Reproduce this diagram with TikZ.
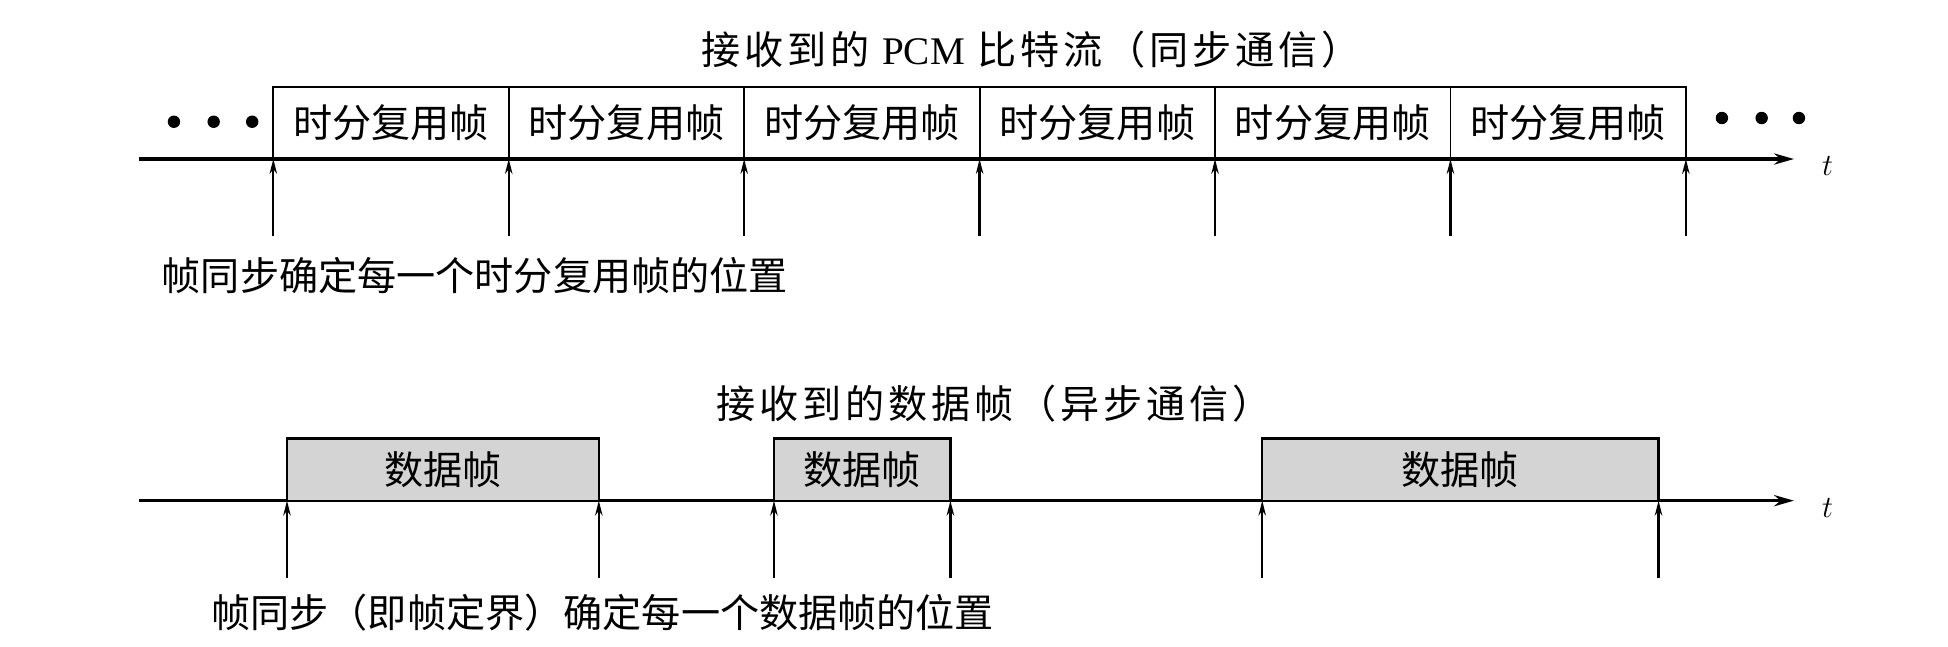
\documentclass[tikz,border=0pt]{standalone}
\usepackage{fontspec}
\setmainfont{Liberation Serif}
\newfontfamily\cjk{Noto Sans CJK SC}
\newfontfamily\cjkwide{Noto Sans CJK SC}[LetterSpace=10]
\usetikzlibrary{arrows.meta}
\begin{document}
\begin{tikzpicture}[x=1pt,y=1pt,
  txt/.style={font=\cjk\fontsize{31.5}{31.5}\selectfont, inner sep=0pt},
  ttl/.style={font=\cjkwide\fontsize{31.5}{31.5}\selectfont, inner sep=0pt},
  tbox/.style={draw, line width=1.5pt, minimum height=58pt, inner sep=0pt, outer sep=0pt, anchor=south west, font=\cjk\fontsize{31.5}{31.5}\selectfont},
  dbox/.style={draw, line width=1.8pt, fill=black!17, minimum height=50pt, inner sep=0pt, outer sep=0pt, anchor=south west, font=\cjk\fontsize{31.5}{31.5}\selectfont},
  axis/.style={line width=2.6pt, -{Stealth[length=16pt,width=9pt]}},
  up/.style={line width=1.8pt, -{Stealth[length=12pt,width=6pt]}},
  dot/.style={circle, fill=black, inner sep=0pt, minimum size=10pt}]
\useasboundingbox (0,0) rectangle (1568,520);
% ---- top: synchronous ----
\node[ttl] (title1) at (830,480) {接收到的 {\rmfamily PCM} 比特流（同步通信）};
\coordinate (ax1s) at (112,392);
\coordinate (ax1e) at (1444,392);
\draw[axis] (ax1s) -- (ax1e);
\node[font=\fontsize{28}{28}\selectfont, inner sep=0pt] (t1) at (1471,386) {$t$};
\node[tbox, minimum width=189.5pt] (f1) at (220,392) {时分复用帧};
\node[tbox, minimum width=189.5pt] (f2) at (f1.south east) {时分复用帧};
\node[tbox, minimum width=189.5pt] (f3) at (f2.south east) {时分复用帧};
\node[tbox, minimum width=189.5pt] (f4) at (f3.south east) {时分复用帧};
\node[tbox, minimum width=189.5pt] (f5) at (f4.south east) {时分复用帧};
\node[tbox, minimum width=189.5pt] (f6) at (f5.south east) {时分复用帧};
\node[dot] (ld1) at (140,422) {};
\node[dot] (ld2) at (172,422) {};
\node[dot] (ld3) at (203,422) {};
\node[dot] (rd1) at (1386,425) {};
\node[dot] (rd2) at (1418,425) {};
\node[dot] (rd3) at (1448,425) {};
\coordinate (a1) at (220,330);
\coordinate (a2) at (409.5,330);
\coordinate (a3) at (599,330);
\coordinate (a4) at (788.5,330);
\coordinate (a5) at (978,330);
\coordinate (a6) at (1167.5,330);
\coordinate (a7) at (1357,330);
\draw[up] (a1) -- (f1.south west);
\draw[up] (a2) -- (f2.south west);
\draw[up] (a3) -- (f3.south west);
\draw[up] (a4) -- (f4.south west);
\draw[up] (a5) -- (f5.south west);
\draw[up] (a6) -- (f6.south west);
\draw[up] (a7) -- (f6.south east);
\node[txt, anchor=west] (lab1) at (130,298) {帧同步确定每一个时分复用帧的位置};
% ---- bottom: asynchronous ----
\node[ttl] (title2) at (800,195) {接收到的数据帧（异步通信）};
\coordinate (ax2s) at (112,117);
\coordinate (ax2e) at (1444,117);
\draw[axis] (ax2s) -- (ax2e);
\node[font=\fontsize{28}{28}\selectfont, inner sep=0pt] (t2) at (1471,111) {$t$};
\node[dbox, minimum width=251pt] (d1) at (231,117) {数据帧};
\node[dbox, minimum width=142pt] (d2) at (623,117) {数据帧};
\node[dbox, minimum width=319pt] (d3) at (1016,117) {数据帧};
\coordinate (b1) at (231,55);
\coordinate (b2) at (482,55);
\coordinate (b3) at (623,55);
\coordinate (b4) at (765,55);
\coordinate (b5) at (1016,55);
\coordinate (b6) at (1335,55);
\draw[up] (b1) -- (d1.south west);
\draw[up] (b2) -- (d1.south east);
\draw[up] (b3) -- (d2.south west);
\draw[up] (b4) -- (d2.south east);
\draw[up] (b5) -- (d3.south west);
\draw[up] (b6) -- (d3.south east);
\node[txt, anchor=west] (lab2) at (170,27) {帧同步（即帧定界）确定每一个数据帧的位置};
\end{tikzpicture}
\end{document}
